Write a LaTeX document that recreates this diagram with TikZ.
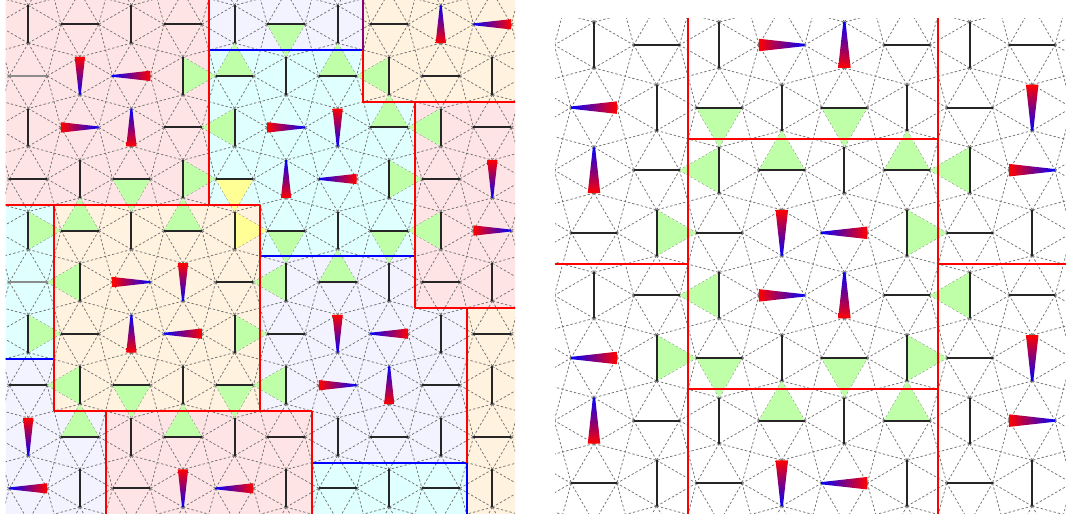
\documentclass[tikz,border=0pt]{standalone}
\begin{document}
\definecolor{pinkbg}{RGB}{255,228,230}
\definecolor{cyanbg}{RGB}{224,255,255}
\definecolor{lavbg}{RGB}{243,243,255}
\definecolor{peachbg}{RGB}{255,242,222}
\definecolor{grn}{RGB}{190,255,168}
\definecolor{ylw}{RGB}{255,255,150}
\newcommand\dmh{0.366}
\newcommand\ndw{0.1}
\newcommand\ndt{0.018}
\tikzset{
 latline/.style={draw=black!55, line width=0.75pt, dash pattern=on 2.4pt off 2pt},
 dimer/.style={draw=black!85, line width=2pt},
 graydimer/.style={draw=black!45, line width=2pt},
 wallr/.style={draw=red, line width=2pt},
 wallb/.style={draw=blue, line width=2pt},
 wallp/.style={draw=red!55!blue, line width=2pt},
}
\newcommand\ndlT[2]{\shade[top color=red,bottom color=blue] (#1-\ndw,#2-\dmh)--(#1+\ndw,#2-\dmh)--(#1+\ndt,#2+\dmh)--(#1-\ndt,#2+\dmh)--cycle;}
\newcommand\ndlB[2]{\shade[top color=blue,bottom color=red] (#1-\ndt,#2-\dmh)--(#1+\ndt,#2-\dmh)--(#1+\ndw,#2+\dmh)--(#1-\ndw,#2+\dmh)--cycle;}
\newcommand\ndlL[2]{\shade[left color=red,right color=blue] (#1-\dmh,#2-\ndw)--(#1+\dmh,#2-\ndt)--(#1+\dmh,#2+\ndt)--(#1-\dmh,#2+\ndw)--cycle;}
\newcommand\ndlR[2]{\shade[left color=blue,right color=red] (#1-\dmh,#2-\ndt)--(#1+\dmh,#2-\ndw)--(#1+\dmh,#2+\ndw)--(#1-\dmh,#2+\ndt)--cycle;}
\newcommand\triU[3][grn]{\fill[#1] (#2-\dmh,#3)--(#2+\dmh,#3)--(#2,#3-1+\dmh)--cycle;}
\newcommand\triD[3][grn]{\fill[#1] (#2-\dmh,#3)--(#2+\dmh,#3)--(#2,#3+1-\dmh)--cycle;}
\newcommand\triL[3][grn]{\fill[#1] (#2,#3-\dmh)--(#2,#3+\dmh)--(#2-1+\dmh,#3)--cycle;}
\newcommand\triR[3][grn]{\fill[#1] (#2,#3-\dmh)--(#2,#3+\dmh)--(#2+1-\dmh,#3)--cycle;}
\newcommand\pinwheel[2]{%
 \pgfmathtruncatemacro\pwa{#1+1}\pgfmathtruncatemacro\pwb{#2+1}%
 \pgfmathtruncatemacro\pwp{mod(#1+#2+100,2)}%
 \expandafter\gdef\csname nd\pid:#1:#2\endcsname{}%
 \expandafter\gdef\csname nd\pid:\pwa:#2\endcsname{}%
 \expandafter\gdef\csname nd\pid:#1:\pwb\endcsname{}%
 \expandafter\gdef\csname nd\pid:\pwa:\pwb\endcsname{}%
 \ifnum\pwp=0
  \ndlT{#1}{#2}\ndlR{\pwa}{#2}\ndlL{#1}{\pwb}\ndlB{\pwa}{\pwb}%
 \else
  \ndlL{#1}{#2}\ndlT{\pwa}{#2}\ndlB{#1}{\pwb}\ndlR{\pwa}{\pwb}%
 \fi}
\newcommand\lattice[4]{%
\foreach \ci in {#1,...,#2}{\foreach \ri in {#3,...,#4}{%
 \pgfmathtruncatemacro\pty{mod(\ci+\ri+100,2)}%
 \ifnum\pty=0
  \draw[latline] (\ci,\ri-\dmh)--(\ci-\dmh,\ri-1) (\ci,\ri-\dmh)--(\ci+\dmh,\ri-1)
   (\ci,\ri+\dmh)--(\ci-\dmh,\ri+1) (\ci,\ri+\dmh)--(\ci+\dmh,\ri+1)
   (\ci,\ri-\dmh)--(\ci-1+\dmh,\ri) (\ci,\ri+\dmh)--(\ci-1+\dmh,\ri)
   (\ci,\ri-\dmh)--(\ci+1-\dmh,\ri) (\ci,\ri+\dmh)--(\ci+1-\dmh,\ri)
   (\ci,\ri+\dmh)--(\ci+1,\ri+1-\dmh) (\ci,\ri+\dmh)--(\ci-1,\ri+1-\dmh);
 \else
  \draw[latline] (\ci+\dmh,\ri)--(\ci+1-\dmh,\ri+1) (\ci-\dmh,\ri)--(\ci-1+\dmh,\ri+1);
 \fi}}}
\newcommand\dimers[4]{%
\foreach \ci in {#1,...,#2}{\foreach \ri in {#3,...,#4}{%
 \ifcsname nd\pid:\ci:\ri\endcsname\else
 \pgfmathtruncatemacro\pty{mod(\ci+\ri+100,2)}%
 \ifnum\pty=0
  \draw[dimer] (\ci,\ri-\dmh)--(\ci,\ri+\dmh);
 \else
  \draw[dimer] (\ci-\dmh,\ri)--(\ci+\dmh,\ri);
 \fi\fi}}}
\begin{tikzpicture}[x=1pt,y=-1pt]
\useasboundingbox (0,0) rectangle (1066,514);
\fill[white] (0,0) rectangle (1066,514);
% ---------------- left panel
\begin{scope}
\clip (5.5,0) rectangle (515,514);
\begin{scope}[shift={(28.3,24.3)},x=51.56pt,y=-51.56pt]
\def\pid{L}
\fill[pinkbg] (-1,-1) rectangle (3.5,3.5);
\fill[lavbg] (3.5,-1) rectangle (6.5,0.5);
\fill[peachbg] (6.5,-1) rectangle (10.5,1.5);
\fill[cyanbg] (3.5,0.5)--(6.5,0.5)--(6.5,1.5)--(7.5,1.5)--(7.5,4.5)--(4.5,4.5)--(4.5,3.5)--(3.5,3.5)--cycle;
\fill[pinkbg] (7.5,1.5) rectangle (10.5,5.5);
\fill[cyanbg] (-1,3.5) rectangle (0.5,6.5);
\fill[peachbg] (0.5,3.5) rectangle (4.5,7.5);
\fill[lavbg] (4.5,4.5)--(7.5,4.5)--(7.5,5.5)--(8.5,5.5)--(8.5,8.5)--(5.5,8.5)--(5.5,7.5)--(4.5,7.5)--cycle;
\fill[peachbg] (8.5,5.5) rectangle (10.5,10.5);
\fill[cyanbg] (5.5,8.5) rectangle (8.5,10.5);
\fill[pinkbg] (1.5,7.5) rectangle (5.5,10.5);
\fill[lavbg] (-1,6.5)--(0.5,6.5)--(0.5,7.5)--(1.5,7.5)--(1.5,10.5)--(-1,10.5)--cycle;
\lattice{-1}{10}{-1}{10}
\triR{3}{1}\triU{4}{1}\triL{4}{2}\triD{2}{3}\triR{3}{3}
\triR{0}{4}\triU{1}{4}\triU{3}{4}
\triD[ylw]{4}{3}\triR[ylw]{4}{4}
\triD{5}{0}\triU{6}{1}\triL{7}{1}\triU{7}{2}\triL{8}{2}\triR{7}{3}
\triL{8}{4}\triD{7}{4}\triD{5}{4}
\triU{6}{5}\triL{5}{5}\triL{5}{7}\triR{4}{6}
\triL{1}{5}\triR{0}{6}\triL{1}{7}\triD{2}{7}\triD{4}{7}\triU{1}{8}\triU{3}{8}
\pinwheel{1}{1}\pinwheel{5}{2}\pinwheel{8}{-1}\pinwheel{9}{3}
\pinwheel{2}{5}\pinwheel{6}{6}\pinwheel{3}{9}\pinwheel{-1}{8}
\dimers{-1}{10}{-1}{10}
\draw[graydimer] (-\dmh,1)--(\dmh,1);
\draw[graydimer] (-\dmh,5)--(\dmh,5);
\draw[wallb] (3.5,0.5)--(6.5,0.5);
\draw[wallb] (4.5,4.5)--(7.5,4.5);
\draw[wallb] (-1,6.5)--(0.5,6.5);
\draw[wallb] (5.5,8.5)--(8.5,8.5)--(8.5,10.5);
\draw[wallp] (6.5,-1)--(6.5,0.5);
\draw[wallr] (3.5,-1)--(3.5,3.5);
\draw[wallr] (-1,3.5)--(4.5,3.5);
\draw[wallr] (6.5,0.5)--(6.5,1.5)--(10.5,1.5);
\draw[wallr] (7.5,1.5)--(7.5,5.5);
\draw[wallr] (0.5,3.5)--(0.5,7.5);
\draw[wallr] (0.5,7.5)--(5.5,7.5);
\draw[wallr] (1.5,7.5)--(1.5,10.5);
\draw[wallr] (4.5,3.5)--(4.5,7.5);
\draw[wallr] (5.5,7.5)--(5.5,10.5);
\draw[wallr] (7.5,5.5)--(10.5,5.5);
\draw[wallr] (8.5,5.5)--(8.5,8.5);
\end{scope}
\end{scope}
% ---------------- right panel
\begin{scope}
\clip (555,18) rectangle (1066,514);
\begin{scope}[shift={(594,45)},x=62.6pt,y=-62.6pt]
\def\pid{R}
\lattice{-1}{8}{-1}{8}
\triD{2}{1}\triU{3}{2}\triL{2}{2}\triR{1}{3}
\triD{4}{1}\triU{5}{2}\triL{6}{2}\triR{5}{3}
\triL{2}{4}\triR{1}{5}\triD{2}{5}\triU{3}{6}
\triL{6}{4}\triR{5}{5}\triD{4}{5}\triU{5}{6}
\pinwheel{3}{-1}\pinwheel{3}{3}\pinwheel{3}{7}\pinwheel{7}{1}\pinwheel{7}{5}\pinwheel{-1}{1}\pinwheel{-1}{5}
\dimers{-1}{8}{-1}{8}
\draw[wallr] (1.5,-1)--(1.5,9);
\draw[wallr] (5.5,-1)--(5.5,9);
\draw[wallr] (1.5,1.5)--(5.5,1.5);
\draw[wallr] (1.5,5.5)--(5.5,5.5);
\draw[wallr] (-1,3.5)--(1.5,3.5);
\draw[wallr] (5.5,3.5)--(9,3.5);
\end{scope}
\end{scope}
\end{tikzpicture}
\end{document}
